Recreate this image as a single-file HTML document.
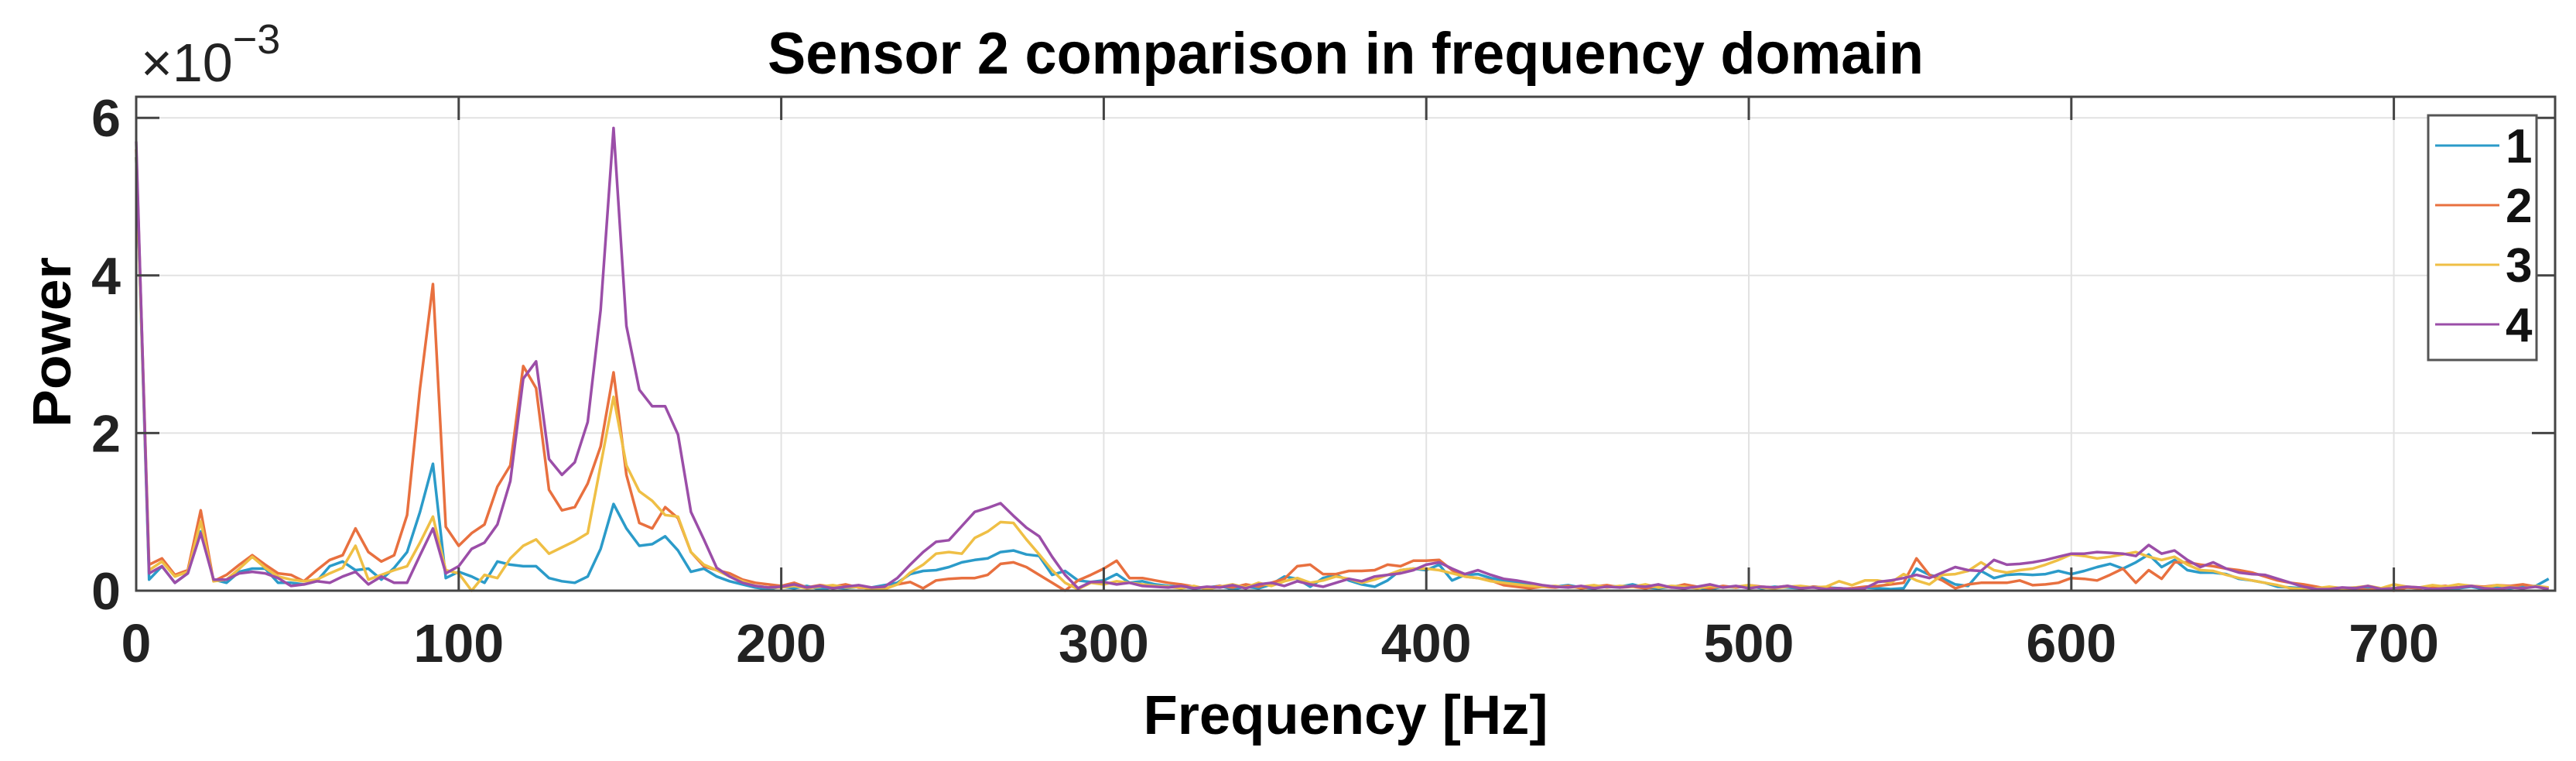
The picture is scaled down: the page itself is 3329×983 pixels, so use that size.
<!DOCTYPE html>
<html><head><meta charset="utf-8"><style>
html,body{margin:0;padding:0;background:#fff;}
svg{display:block;font-family:"Liberation Sans",Arial,sans-serif;}
</style></head><body>
<svg id="chart" width="3329" height="983" viewBox="0 0 3329 983" xmlns="http://www.w3.org/2000/svg">
<rect width="3329" height="983" fill="#fff"/>
<g id="grid"></g>
<g id="series"></g>
<g id="axes"></g>
<text x="1739" y="95" text-anchor="middle" font-size="76" font-weight="bold" textLength="1494" lengthAdjust="spacingAndGlyphs">Sensor 2 comparison in frequency domain</text>
<text x="1739" y="948" text-anchor="middle" font-size="71" font-weight="bold" textLength="523" lengthAdjust="spacingAndGlyphs">Frequency [Hz]</text>
<text transform="translate(91,442) rotate(-90)" text-anchor="middle" font-size="70" font-weight="bold" textLength="220" lengthAdjust="spacingAndGlyphs">Power</text>
<text x="182" y="105" font-size="70" fill="#222">×10<tspan font-size="54" dy="-36">−3</tspan></text>
<g>
<rect x="3138" y="149" width="140" height="316" fill="#fff" stroke="#555" stroke-width="3"/>
<g id="legend-entries"></g>
</g>
</svg>
<script>
const xTicks = [0,100,200,300,400,500,600,700];
const yTicks = [0,2,4,6];
const binWidth = 4; // Hz per FFT bin
const seriesNames = ["1","2","3","4"];
const series1 = [5.5,0.14,0.31,0.10,0.22,0.75,0.14,0.10,0.24,0.28, 0.28,0.10,0.10,0.08,0.12,0.31,0.37,0.26,0.28,0.14, 0.29,0.49,1.00,1.61,0.16,0.24,0.18,0.10,0.37,0.33, 0.31,0.31,0.16,0.12,0.10,0.18,0.53,1.10,0.79,0.57, 0.59,0.69,0.51,0.24,0.28,0.18,0.12,0.08,0.04,0.02,
0.05,0.03,0.06,0.02,0.04,0.03,0.05,0.04,0.07,0.10, 0.21,0.25,0.26,0.30,0.36,0.39,0.41,0.49,0.51,0.46, 0.44,0.20,0.25,0.13,0.11,0.13,0.21,0.10,0.12,0.08, 0.06,0.05,0.03,0.04,0.06,0.02,0.05,0.03,0.08,0.18, 0.15,0.05,0.16,0.20,0.13,0.08,0.05,0.13,0.26,0.28,
0.26,0.33,0.13,0.20,0.21,0.16,0.13,0.10,0.08,0.06, 0.05,0.07,0.04,0.03,0.06,0.05,0.08,0.04,0.03,0.05, 0.07,0.04,0.02,0.05,0.04,0.06,0.03,0.05,0.04,0.03, 0.05,0.04,0.03,0.02,0.04,0.03,0.02,0.03,0.28,0.20, 0.16,0.08,0.06,0.25,0.16,0.20,0.21,0.20,0.21,0.25,
0.21,0.25,0.30,0.34,0.28,0.36,0.46,0.30,0.39,0.26, 0.23,0.23,0.21,0.15,0.13,0.10,0.05,0.04,0.03,0.02, 0.03,0.02,0.04,0.03,0.02,0.02,0.04,0.03,0.06,0.02, 0.03,0.05,0.02,0.04,0.03,0.05,0.06,0.15];
const series2 = [5.6,0.33,0.41,0.20,0.26,1.02,0.12,0.20,0.33,0.45, 0.33,0.22,0.20,0.12,0.26,0.39,0.45,0.79,0.49,0.37, 0.45,0.96,2.57,3.89,0.81,0.57,0.73,0.84,1.32,1.59, 2.85,2.57,1.28,1.02,1.06,1.36,1.83,2.77,1.47,0.86, 0.79,1.06,0.92,0.49,0.31,0.26,0.22,0.14,0.10,0.08,
0.06,0.10,0.04,0.07,0.05,0.08,0.04,0.03,0.02,0.08, 0.11,0.03,0.13,0.15,0.16,0.16,0.20,0.34,0.36,0.30, 0.20,0.10,0.00,0.13,0.20,0.28,0.38,0.16,0.16,0.13, 0.10,0.08,0.05,0.03,0.06,0.04,0.08,0.05,0.10,0.15, 0.31,0.33,0.21,0.21,0.25,0.25,0.26,0.33,0.31,0.38,
0.38,0.39,0.26,0.18,0.16,0.13,0.07,0.05,0.03,0.05, 0.04,0.06,0.03,0.05,0.07,0.04,0.05,0.03,0.06,0.04, 0.08,0.05,0.03,0.06,0.04,0.07,0.05,0.04,0.06,0.03, 0.05,0.04,0.02,0.03,0.05,0.06,0.08,0.10,0.41,0.20, 0.13,0.03,0.08,0.10,0.10,0.10,0.13,0.07,0.08,0.10,
0.16,0.15,0.13,0.20,0.28,0.10,0.26,0.15,0.36,0.36, 0.33,0.31,0.28,0.26,0.23,0.18,0.13,0.10,0.08,0.05, 0.02,0.03,0.02,0.01,0.02,0.00,0.04,0.03,0.05,0.06, 0.04,0.06,0.05,0.07,0.06,0.08,0.05,0.03];
const series3 = [5.5,0.26,0.37,0.18,0.24,0.88,0.12,0.14,0.28,0.43, 0.29,0.18,0.14,0.12,0.14,0.22,0.29,0.57,0.14,0.20, 0.26,0.31,0.61,0.94,0.26,0.22,0.00,0.20,0.16,0.41, 0.57,0.65,0.47,0.55,0.63,0.73,1.59,2.46,1.59,1.26, 1.14,0.96,0.94,0.49,0.33,0.26,0.18,0.12,0.06,0.04,
0.04,0.06,0.03,0.05,0.07,0.04,0.05,0.02,0.02,0.08, 0.23,0.33,0.47,0.49,0.47,0.67,0.75,0.87,0.86,0.65, 0.46,0.26,0.10,0.02,0.10,0.08,0.12,0.10,0.08,0.06, 0.05,0.03,0.06,0.02,0.05,0.08,0.04,0.10,0.06,0.12, 0.16,0.10,0.13,0.18,0.15,0.10,0.14,0.20,0.26,0.28,
0.28,0.26,0.22,0.18,0.16,0.12,0.10,0.08,0.06,0.05, 0.06,0.04,0.05,0.07,0.04,0.06,0.05,0.08,0.04,0.06, 0.05,0.03,0.06,0.04,0.05,0.07,0.04,0.03,0.05,0.06, 0.04,0.05,0.12,0.07,0.13,0.13,0.10,0.21,0.13,0.08, 0.20,0.21,0.25,0.36,0.26,0.23,0.26,0.28,0.33,0.39,
0.46,0.44,0.41,0.43,0.46,0.49,0.43,0.39,0.43,0.33, 0.26,0.25,0.20,0.16,0.13,0.10,0.07,0.03,0.02,0.03, 0.05,0.03,0.04,0.06,0.03,0.08,0.05,0.04,0.07,0.05, 0.08,0.06,0.04,0.07,0.05,0.03,0.06,0.04];
const series4 = [5.7,0.22,0.31,0.10,0.22,0.73,0.14,0.14,0.22,0.24, 0.22,0.16,0.06,0.08,0.12,0.10,0.18,0.24,0.08,0.18, 0.10,0.10,0.45,0.79,0.22,0.31,0.53,0.61,0.84,1.39, 2.69,2.91,1.67,1.47,1.63,2.14,3.56,5.87,3.36,2.55, 2.34,2.34,1.98,1.00,0.65,0.29,0.18,0.10,0.06,0.04,
0.05,0.08,0.04,0.06,0.03,0.05,0.07,0.04,0.05,0.16, 0.33,0.49,0.62,0.64,0.82,1.00,1.05,1.11,0.95,0.80, 0.69,0.43,0.20,0.03,0.11,0.11,0.08,0.10,0.06,0.05, 0.04,0.06,0.03,0.05,0.04,0.07,0.03,0.08,0.10,0.06, 0.12,0.08,0.05,0.10,0.15,0.12,0.18,0.20,0.22,0.26,
0.33,0.36,0.28,0.21,0.26,0.20,0.15,0.13,0.10,0.07, 0.05,0.04,0.06,0.03,0.05,0.04,0.06,0.05,0.08,0.04, 0.03,0.05,0.08,0.04,0.06,0.03,0.05,0.04,0.06,0.03, 0.04,0.02,0.03,0.02,0.03,0.11,0.13,0.16,0.20,0.16, 0.23,0.30,0.26,0.25,0.39,0.33,0.34,0.36,0.39,0.43,
0.47,0.47,0.49,0.48,0.47,0.44,0.58,0.47,0.51,0.39, 0.30,0.36,0.28,0.23,0.21,0.20,0.15,0.10,0.05,0.02, 0.02,0.04,0.03,0.06,0.02,0.03,0.05,0.04,0.02,0.03, 0.04,0.06,0.03,0.02,0.04,0.03,0.05,0.02];
const colors = ["#2b9bc9","#e8703f","#efbf45","#9b4ea8"];

const L=176, R=3302, T=125, B=763, XMAX=750, Y0PX=763, YPERUNIT=101.8;
const NS="http://www.w3.org/2000/svg";
function xs(f){return L+(f/XMAX)*(R-L);}
function ys(v){return Y0PX-v*YPERUNIT;}
function mk(tag,attrs,parent){const e=document.createElementNS(NS,tag);for(const k in attrs)e.setAttribute(k,attrs[k]);parent.appendChild(e);return e;}
const grid=document.getElementById('grid'), axes=document.getElementById('axes'), sg=document.getElementById('series');

xTicks.forEach(t=>{
  if(t>0){const g=mk('line',{x1:xs(t),x2:xs(t),y1:T,y2:B,stroke:'#e2e2e2','stroke-width':2},grid);
  
  }
  const tk=mk('line',{x1:xs(t),x2:xs(t),y1:B,y2:B-30,stroke:'#444','stroke-width':3},axes);
  
  
  const tk2=mk('line',{x1:xs(t),x2:xs(t),y1:T,y2:T+30,stroke:'#444','stroke-width':3},axes);
  
  
  const lb=mk('text',{x:xs(t),y:855,'text-anchor':'middle','font-size':70,'font-weight':'bold',fill:'#222'},axes);
  lb.textContent=t;
  
  
});
yTicks.forEach(t=>{
  if(t>0){const g=mk('line',{x1:L,x2:R,y1:ys(t),y2:ys(t),stroke:'#e2e2e2','stroke-width':2},grid);
  
  }
  const tk=mk('line',{x1:L,x2:L+30,y1:ys(t),y2:ys(t),stroke:'#444','stroke-width':3},axes);
  
  
  const tk2=mk('line',{x1:R,x2:R-30,y1:ys(t),y2:ys(t),stroke:'#444','stroke-width':3},axes);
  
  
  const lb=mk('text',{x:156,y:ys(t)+24,'text-anchor':'end','font-size':68,'font-weight':'bold',fill:'#222'},axes);
  lb.textContent=t;
  
  
});
const box=mk('rect',{x:L,y:T,width:R-L,height:B-T,fill:'none',stroke:'#444','stroke-width':3},axes);



[series1,series2,series3,series4].forEach((s,k)=>{
  const pts=s.map((v,i)=>xs(i*binWidth).toFixed(1)+','+ys(v).toFixed(1)).join(' ');
  const pl=mk('polyline',{points:pts,fill:'none',stroke:colors[k],'stroke-width':3.5,'stroke-linejoin':'round'},sg);
  
  
});

const le=document.getElementById('legend-entries');
seriesNames.forEach((n,k)=>{
  const y=188+k*77;
  const ln=mk('line',{x1:3147,x2:3230,y1:y,y2:y,stroke:colors[k],'stroke-width':3},le);
  
  
  const tx=mk('text',{x:3238,y:y+22,'font-size':62,'font-weight':'bold',fill:'#111'},le);
  tx.textContent=n;
  
  
});
</script>
</body></html>
